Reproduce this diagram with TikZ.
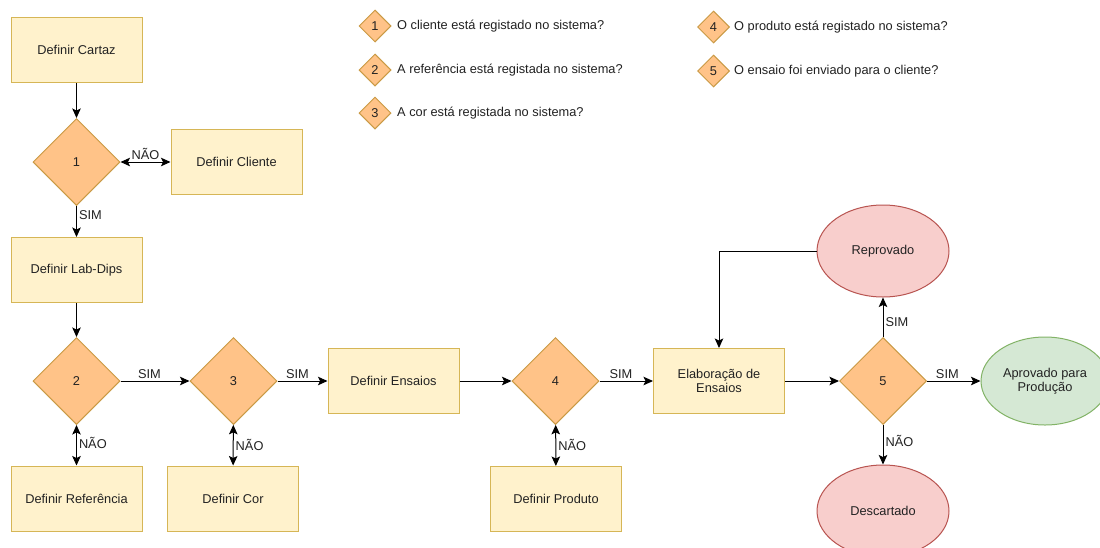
\documentclass[tikz,border=0pt]{standalone}
\usepackage{fontspec}
\setmainfont{Liberation Sans}
\usetikzlibrary{arrows.meta,shapes.geometric}
\definecolor{boxfill}{HTML}{FFF2CC}
\definecolor{boxline}{HTML}{D6B656}
\definecolor{decfill}{HTML}{FFC388}
\definecolor{decline}{HTML}{C99A45}
\definecolor{redfill}{HTML}{F8CECC}
\definecolor{redline}{HTML}{B85450}
\definecolor{grnfill}{HTML}{D5E8D4}
\definecolor{grnline}{HTML}{82B366}
\definecolor{ink}{HTML}{222222}
\begin{document}
\begin{tikzpicture}[x=1pt,y=-1pt,
  font=\fontsize{12.8}{14.5}\selectfont, text=ink,
  stepbox/.style={draw=boxline, fill=boxfill, line width=1pt, minimum width=131pt,
    minimum height=65pt, inner sep=0pt, align=center},
  decision/.style={diamond, aspect=1, draw=decline, fill=decfill, line width=1pt,
    minimum size=87pt, inner sep=0pt},
  keydec/.style={diamond, aspect=1, draw=decline, fill=decfill, line width=1pt,
    minimum size=32pt, inner sep=0pt},
  keytext/.style={anchor=west, inner sep=0pt},
  endred/.style={ellipse, draw=redline, fill=redfill, line width=1pt,
    minimum width=132pt, minimum height=92pt, inner sep=0pt, align=center},
  endgrn/.style={ellipse, draw=grnline, fill=grnfill, line width=1pt,
    minimum width=128pt, minimum height=88pt, inner sep=0pt, align=center},
  tip/.tip={Stealth[length=9.5pt,width=8.5pt,inset=2pt]},
  flow/.style={draw=black, line width=1pt, -tip},
  both/.style={draw=black, line width=1pt, tip-tip},
  lbl/.style={inner sep=2pt, text=ink}]
\useasboundingbox (0,0) rectangle (1100,547);
\clip (0,0) rectangle (1100,547);
\fill[white] (0,0) rectangle (1100,547);

% key of the decisions
\node[keydec] (k1) at (375,26) {1};
\node[keytext] (t1) at (397,26) {O cliente está registado no sistema?};
\node[keydec] (k2) at (375,70) {2};
\node[keytext] (t2) at (397,70) {A referência está registada no sistema?};
\node[keydec] (k3) at (375,113) {3};
\node[keytext] (t3) at (397,113) {A cor está registada no sistema?};
\node[keydec] (k4) at (713.5,27) {4};
\node[keytext] (t4) at (734,27) {O produto está registado no sistema?};
\node[keydec] (k5) at (713.5,71) {5};
\node[keytext] (t5) at (734,71) {O ensaio foi enviado para o cliente?};

% process steps
\node[stepbox] (cartaz) at (76.5,50) {Definir Cartaz};
\node[decision] (d1) at (76.5,162) {1};
\node[stepbox] (cliente) at (236.5,162) {Definir Cliente};
\node[stepbox] (labdips) at (76.5,270) {Definir Lab-Dips};
\node[decision] (d2) at (76.5,381) {2};
\node[stepbox] (ref) at (76.5,498.5) {Definir Referência};
\node[decision] (d3) at (233.5,381) {3};
\node[stepbox] (cor) at (233,498.5) {Definir Cor};
\node[stepbox] (ensaios) at (393.5,381) {Definir Ensaios};
\node[decision] (d4) at (555.5,381) {4};
\node[stepbox] (produto) at (556,499) {Definir Produto};
\node[stepbox] (elab) at (719,381) {Elaboração de\\Ensaios};
\node[decision] (d5) at (883,381) {5};
\node[endred] (reprov) at (883,251) {Reprovado};
\node[endred] (descart) at (883,511) {Descartado};
\node[endgrn] (aprov) at (1045,381) {Aprovado para\\Produção};

% connectors
\draw[flow] (cartaz) -- (d1);
\draw[both] (d1) -- node[lbl, above, name=n1] {NÃO} (cliente);
\draw[flow] (d1) -- node[lbl, right, pos=0.3, name=s1] {SIM} (labdips);
\draw[flow] (labdips) -- (d2);
\draw[flow] (d2) -- node[lbl, above, pos=0.42, name=s2] {SIM} (d3);
\draw[both] (d2) -- node[lbl, right, pos=0.45, name=n2] {NÃO} (ref);
\draw[flow] (d3) -- node[lbl, above, pos=0.4, name=s3] {SIM} (ensaios);
\draw[both] (d3) -- node[lbl, right, name=n3] {NÃO} (cor);
\draw[flow] (ensaios) -- (d4);
\draw[flow] (d4) -- node[lbl, above, pos=0.4, name=s4] {SIM} (elab);
\draw[both] (d4) -- node[lbl, right, name=n4] {NÃO} (produto);
\draw[flow] (elab) -- (d5);
\draw[flow] (d5) -- node[lbl, right, pos=0.38, name=s5] {SIM} (reprov);
\draw[flow] (d5) -- node[lbl, above, pos=0.38, name=s6] {SIM} (aprov);
\draw[flow] (d5) -- node[lbl, right, pos=0.4, name=n5] {NÃO} (descart);
\draw[flow] (reprov.west) -| (elab.north);
\end{tikzpicture}
\end{document}
